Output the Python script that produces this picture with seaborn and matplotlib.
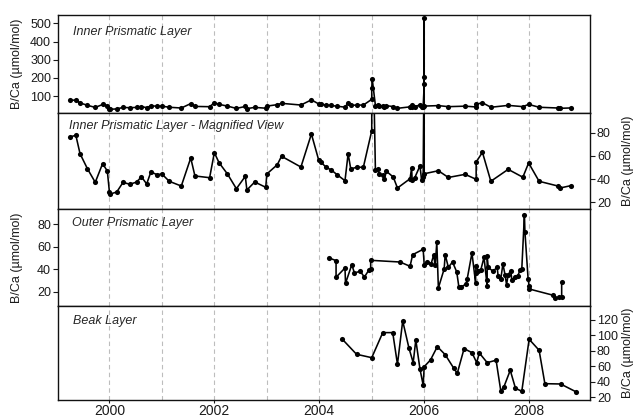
import matplotlib
matplotlib.use("Agg")
import matplotlib.pyplot as plt
import pandas as pd
import seaborn as sns

sns.set_theme(style="white")
plt.rcParams["font.family"] = ["Liberation Sans", "DejaVu Sans"]

# ---- B/Ca time series (decimal year, umol/mol) ----
inner_year = [1999.25, 1999.36, 1999.44, 1999.58, 1999.73, 1999.87, 1999.96, 2000.00,
              2000.01, 2000.14, 2000.26, 2000.39, 2000.52, 2000.61, 2000.71, 2000.79,
              2000.91, 2001.00, 2001.14, 2001.37, 2001.55, 2001.63, 2001.91, 2002.00,
              2002.09, 2002.25, 2002.42, 2002.59, 2002.62, 2002.77, 2002.98, 2003.00,
              2003.20, 2003.28, 2003.65, 2003.85, 2003.99, 2004.03, 2004.13, 2004.23,
              2004.34, 2004.49, 2004.55, 2004.60, 2004.71, 2004.84, 2005.00, 2005.00,
              2005.01, 2005.07, 2005.11, 2005.14, 2005.21, 2005.24, 2005.28, 2005.41,
              2005.49, 2005.73, 2005.76, 2005.77, 2005.82, 2005.92, 2005.95, 2005.98,
              2006.00, 2006.00, 2006.00, 2006.00, 2006.27, 2006.46, 2006.78, 2006.99,
              2006.99, 2007.11, 2007.27, 2007.60, 2007.88, 2007.99, 2008.19, 2008.55,
              2008.59, 2008.79]
inner_bca = [76.3, 77.8, 61.9, 49.0, 37.2, 53.3, 47.0, 28.9,
             27.0, 28.9, 37.2, 35.5, 37.5, 42.0, 35.8, 46.1,
             43.8, 44.4, 38.1, 34.0, 58.2, 42.7, 41.2, 62.8,
             54.1, 44.4, 31.7, 42.4, 30.6, 37.5, 32.9, 44.4,
             52.4, 59.7, 50.4, 78.9, 56.2, 54.7, 50.2, 47.8,
             43.8, 38.6, 61.9, 48.7, 50.2, 50.2, 81.7, 145.0,
             192.0, 47.5, 48.4, 44.6, 43.3, 40.3, 46.7, 41.8,
             32.3, 40.3, 49.6, 39.0, 41.2, 51.5, 39.0, 41.8,
             164.0, 203.0, 528.0, 44.6, 47.2, 41.4, 44.1, 39.8,
             54.7, 63.1, 38.1, 48.4, 41.6, 53.9, 38.1, 34.0,
             32.3, 34.3]

outer_year = [2004.19, 2004.32, 2004.32, 2004.49, 2004.50, 2004.62, 2004.67, 2004.78,
              2004.86, 2004.95, 2004.98, 2004.98, 2005.54, 2005.73, 2005.78, 2005.98,
              2006.00, 2006.06, 2006.13, 2006.18, 2006.21, 2006.24, 2006.27, 2006.38,
              2006.40, 2006.46, 2006.54, 2006.62, 2006.66, 2006.71, 2006.80, 2006.82,
              2006.91, 2006.98, 2006.98, 2006.99, 2007.03, 2007.08, 2007.14, 2007.20,
              2007.20, 2007.20, 2007.22, 2007.31, 2007.39, 2007.41, 2007.46, 2007.50,
              2007.54, 2007.57, 2007.60, 2007.65, 2007.67, 2007.73, 2007.78, 2007.83,
              2007.86, 2007.91, 2007.92, 2007.98, 2008.00, 2008.00, 2008.46, 2008.49,
              2008.56, 2008.62, 2008.62]
outer_bca = [49.9, 47.5, 32.8, 41.0, 27.4, 43.9, 36.6, 38.1,
             33.0, 39.5, 40.1, 47.8, 46.3, 42.5, 52.8, 57.6,
             43.9, 46.3, 44.6, 52.3, 43.4, 63.8, 23.3, 40.1,
             52.8, 41.6, 46.3, 37.5, 24.4, 24.4, 26.8, 31.5,
             54.3, 27.7, 36.6, 42.5, 38.6, 39.5, 50.5, 24.8,
             30.6, 51.9, 41.6, 38.1, 41.6, 33.6, 31.3, 44.6,
             35.1, 26.2, 35.1, 38.6, 30.6, 32.8, 33.6, 39.5,
             40.1, 88.3, 72.9, 31.5, 24.8, 22.4, 16.8, 14.4,
             15.0, 15.0, 28.6]

beak_year = [2004.44, 2004.71, 2005.00, 2005.21, 2005.40, 2005.49, 2005.59, 2005.71,
             2005.79, 2005.84, 2005.92, 2005.98, 2006.00, 2006.12, 2006.25, 2006.40,
             2006.56, 2006.63, 2006.76, 2006.91, 2007.00, 2007.05, 2007.20, 2007.37,
             2007.46, 2007.52, 2007.64, 2007.74, 2007.86, 2008.00, 2008.19, 2008.30,
             2008.60, 2008.89]
beak_bca = [95.0, 75.6, 71.2, 103.6, 103.6, 62.7, 118.7, 83.4,
            64.8, 94.1, 56.2, 35.9, 59.6, 68.3, 85.5, 75.1,
            57.9, 51.0, 82.9, 77.7, 64.8, 77.3, 64.8, 67.9,
            28.1, 33.7, 54.9, 31.6, 27.8, 95.0, 80.8, 37.6,
            37.2, 27.2]

panel_titles = ["Inner Prismatic Layer",
                "Inner Prismatic Layer - Magnified View",
                "Outer Prismatic Layer",
                "Beak Layer"]
y_label = "B/Ca (\u00b5mol/mol)"
year_ticks = [2000, 2002, 2004, 2006, 2008]
grid_years = list(range(2000, 2009))

inner = pd.DataFrame({"year": inner_year, "bca": inner_bca})
outer = pd.DataFrame({"year": outer_year, "bca": outer_bca})
beak = pd.DataFrame({"year": beak_year, "bca": beak_bca})

panels = [
    dict(df=inner, ylim=(6.5, 546), yticks=[100, 200, 300, 400, 500], side="left",
         tpos=(0.028, 0.83)),
    dict(df=inner, ylim=(14.2, 97), yticks=[20, 40, 60, 80], side="right",
         tpos=(0.021, 0.868)),
    dict(df=outer, ylim=(7.3, 93.3), yticks=[20, 40, 60, 80], side="left",
         tpos=(0.026, 0.859)),
    dict(df=beak, ylim=(16.5, 138), yticks=[20, 40, 60, 80, 100, 120], side="right",
         tpos=(0.029, 0.844)),
]

W, H = 634, 418
x0, x1 = 58, 590
rows = [(15, 113), (113, 209), (209, 306), (306, 400)]
ink = "#1a1a1a"

fig = plt.figure(figsize=(W / 100, H / 100), dpi=100)
for i, ((top, bot), p, title) in enumerate(zip(rows, panels, panel_titles)):
    ax = fig.add_axes([x0 / W, 1 - bot / H, (x1 - x0) / W, (bot - top) / H])
    for yr in grid_years:
        ax.axvline(yr, color="#bdbdbd", lw=0.8, ls=(0, (4, 3)), zorder=0)
    sns.lineplot(data=p["df"], x="year", y="bca", estimator=None, sort=False,
                 marker="o", markersize=3.7, markeredgewidth=0, color="black",
                 lw=1.15, ax=ax)
    ax.set_xlim(1999.02, 2009.16)
    ax.set_ylim(*p["ylim"])
    ax.set_yticks(p["yticks"])
    ax.set_xticks(year_ticks)
    for s in ax.spines.values():
        s.set_color("#111111")
        s.set_linewidth(1.0)
    right = p["side"] == "right"
    ax.tick_params(axis="y", left=not right, right=right, labelleft=not right,
                   labelright=right, direction="out", length=3.5, width=0.8,
                   pad=1.5, labelsize=9, colors=ink)
    last = i == len(rows) - 1
    ax.tick_params(axis="x", bottom=last, labelbottom=last, direction="out",
                   length=2.2, width=0.8, pad=0.4, labelsize=10, colors=ink)
    ax.set_xlabel("")
    if right:
        ax.yaxis.set_label_position("right")
        ax.set_ylabel(y_label, fontsize=9, color=ink, rotation=90)
        ax.yaxis.set_label_coords(1.061, 0.5)
    else:
        ax.set_ylabel(y_label, fontsize=9, color=ink)
        ax.yaxis.set_label_coords(-0.066, 0.5)
    ax.text(p["tpos"][0], p["tpos"][1], title, transform=ax.transAxes,
            fontsize=9, style="italic", color="#262626", ha="left", va="center")

fig.savefig("out.png", dpi=100)
